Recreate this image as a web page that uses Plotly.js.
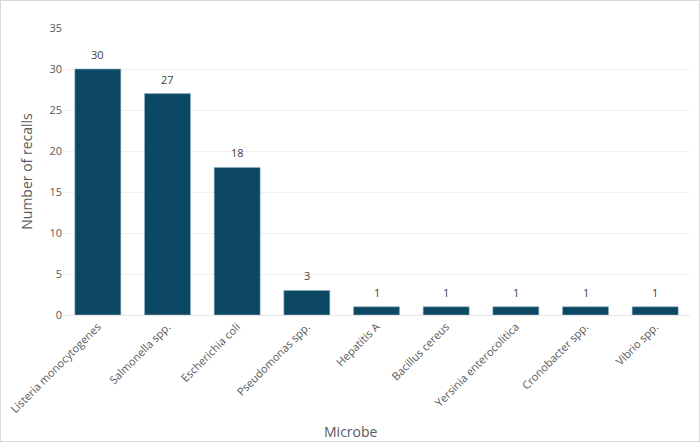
<!DOCTYPE html>
<html><head><meta charset="utf-8">
<script src="https://cdn.plot.ly/plotly-3.0.1.min.js"></script>
<style>html,body{margin:0;padding:0;background:#fff}#chart{width:700px;height:442px;box-sizing:border-box;border:1px solid #d9d9d9}</style>
</head><body><div id="chart"></div>
<script>
const microbes = ["Listeria monocytogenes","Salmonella spp.","Escherichia coli","Pseudomonas spp.","Hepatitis A","Bacillus cereus","Yersinia enterocolitica","Cronobacter spp.","Vibrio spp."];
const recalls = [30,27,18,3,1,1,1,1,1];
const yTicks = [0,5,10,15,20,25,30,35];

const labels = microbes.map((m,i)=>({
  x:m, y:recalls[i], xref:'x', yref:'y', text:String(recalls[i]), showarrow:false,
  yanchor:'bottom', yshift:5, font:{family:'Open Sans', size:11, color:'#404040'}
}));
labels.push({text:'Microbe', xref:'paper', yref:'paper', x:(350-62)/627, y:0, yshift:-116, xanchor:'center', yanchor:'middle',
  showarrow:false, font:{family:'Open Sans', size:14, color:'#595959'}});

Plotly.newPlot('chart',[{
  type:'bar', x:microbes, y:recalls,
  marker:{color:'#0C4763', line:{color:'#8fb3c6', width:0.6}},
  hoverinfo:'x+y'
}],{
  width:698, height:440,
  margin:{l:62,r:9,t:27,b:126},
  paper_bgcolor:'#fff', plot_bgcolor:'#fff',
  bargap:0.34,
  font:{family:'Open Sans', color:'#595959'},
  annotations:labels,
  xaxis:{tickangle:-45, tickfont:{size:11,color:'#595959'}, showline:true, linecolor:'#e6e6e6', linewidth:1, ticks:''},
  yaxis:{range:[0,35], tickvals:yTicks, tickfont:{size:11,color:'#595959'}, gridcolor:'#efefef', zeroline:false, ticks:'', ticklen:0,
    title:{text:'Number of recalls', font:{size:14,color:'#595959'}, standoff:13}},
  showlegend:false
},{displayModeBar:false, staticPlot:true});
</script></body></html>
